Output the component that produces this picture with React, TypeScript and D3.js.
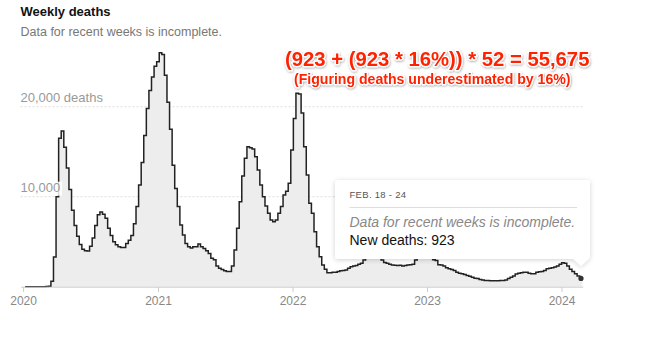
import React from "react";
import * as d3 from "d3";

const firstWeek = new Date(2020, 0, 5);
const weeklyDeaths: number[] = [
  0, 0, 0, 0, 0, 0, 0, 0, 10, 60,
  600, 3300, 10000, 16500, 17300, 15500, 13200, 10800, 8500, 6800,
  5600, 4700, 4150, 4000, 3970, 4500, 5400, 6800, 8000, 8300,
  8050, 7600, 6500, 5700, 5000, 4650, 4450, 4350, 4350, 4800,
  5150, 5700, 7000, 8900, 11300, 13800, 16800, 19800, 21800, 23300,
  24500, 25000, 26000, 25800, 23500, 20500, 17500, 13500, 10900, 8900,
  6850, 5750, 4800, 4450, 4300, 4450, 4450, 4750, 4450, 4250,
  4000, 3700, 3150, 3000, 2300, 2050, 1900, 1780, 1700, 1700,
  2300, 4070, 6500, 9450, 12300, 14270, 15550, 15450, 15300, 14450,
  12970, 11300, 10000, 8970, 8150, 7400, 7220, 7400, 8150, 8900,
  10200, 10600, 11500, 15200, 18700, 21500, 21400, 19300, 15560, 12400,
  9270, 8150, 6100, 4450, 3330, 2400, 1930, 1560, 1560, 1600,
  1600, 1700, 1780, 1800, 1850, 2050, 2220, 2300, 2350, 2500,
  2600, 2970, 3200, 3300, 3400, 3450, 3400, 3300, 2970, 2700,
  2600, 2500, 2400, 2370, 2350, 2370, 2300, 2350, 2400, 2450,
  2500, 2970, 3400, 3800, 4100, 4000, 3700, 3400, 3000, 2900,
  2450, 2400, 2300, 2100, 2000, 1900, 1800, 1600, 1500, 1450,
  1350, 1250, 1150, 1050, 950, 900, 800, 750, 700, 680,
  650, 650, 650, 660, 680, 700, 750, 900, 1050, 1200,
  1400, 1500, 1550, 1600, 1600, 1500, 1430, 1450, 1600, 1670,
  1700, 1800, 2000, 2050, 2100, 2200, 2300, 2500, 2650, 2600,
  2300, 1950, 1700, 1450, 1200, 923,
];
const tickYears = [2020, 2021, 2022, 2023, 2024];
const gridValues = [10000, 20000];
const gridLabels = ["10,000", "20,000 deaths"];
const title = "Weekly deaths";
const subtitle = "Data for recent weeks is incomplete.";
const tooltipDate = "FEB. 18 - 24";
const tooltipNote = "Data for recent weeks is incomplete.";
const tooltipValue = "New deaths: 923";
const annotation1 = "(923 + (923 * 16%)) * 52 = 55,675";
const annotation2 = "(Figuring deaths underestimated by 16%)";

const FONT = "'Liberation Sans', Arial, sans-serif";

export default function App() {
  const W = 648, H = 356;
  const x = d3.scaleTime()
    .domain([new Date(2021, 0, 1), new Date(2024, 0, 1)])
    .range([158.5, 562]);
  const y = d3.scaleLinear().domain([0, 20000]).range([286.7, 106.7]);

  const pts: [Date, number][] = weeklyDeaths.map((v, i) => [d3.timeWeek.offset(firstWeek, i), v]);
  const last = pts[pts.length - 1];
  const stepPts: [Date, number][] = [...pts, [d3.timeWeek.offset(last[0], 1), last[1]]];

  const line = d3.line<[Date, number]>()
    .x(d => x(d[0]))
    .y(d => y(d[1]))
    .curve(d3.curveStepAfter);
  const area = d3.area<[Date, number]>()
    .x(d => x(d[0]))
    .y0(y(0))
    .y1(d => y(d[1]))
    .curve(d3.curveStepAfter);

  const lastMid = new Date((+last[0] + +d3.timeWeek.offset(last[0], 1)) / 2);
  const x0 = x(pts[0][0]);
  const xEnd = x(stepPts[stepPts.length - 1][0]);

  return (
    <svg width={W} height={H} style={{ position: "absolute", left: 0, top: 0, background: "#fff" }} fontFamily={FONT}>
      <defs>
        <filter id="tipShadow" x="-10%" y="-20%" width="120%" height="150%">
          <feDropShadow dx="0" dy="1" stdDeviation="2.5" floodColor="#000" floodOpacity="0.18" />
        </filter>
        <filter id="redShadow" x="-5%" y="-30%" width="110%" height="160%">
          <feDropShadow dx="0.5" dy="1" stdDeviation="0.8" floodColor="#000" floodOpacity="0.35" />
        </filter>
      </defs>

      <text x={20.5} y={15.5} fontSize={13} fontWeight="bold" fill="#121212">{title}</text>
      <text x={20.5} y={36} fontSize={12.5} fill="#777">{subtitle}</text>

      {gridValues.map(g => (
        <line key={g} x1={20.5} x2={584} y1={y(g)} y2={y(g)} stroke="#ddd" strokeDasharray="2,2" strokeWidth={1} />
      ))}

      <path d={area(stepPts) || ""} fill="#ededed" />
      <path d={line(stepPts) || ""} fill="none" stroke="#222" strokeWidth={1.5} strokeLinejoin="miter" />

      {gridValues.map((g, i) => (
        <g key={"l" + g}>
          {i === 0 && <rect x={20} y={y(g) - 15} width={42} height={14} fill="#fff" opacity={0.85} />}
          <text x={20.5} y={y(g) - 4.5} fontSize={13} fill="#999">{gridLabels[i]}</text>
        </g>
      ))}

      <line x1={x0 - 4} x2={xEnd + 1} y1={287.2} y2={287.2} stroke="#ccc" strokeWidth={1} />
      {tickYears.map(t => {
        const tx = x(new Date(t, 0, 1));
        return (
          <g key={t}>
            <line x1={tx} x2={tx} y1={287.2} y2={292} stroke="#ccc" />
            <text x={tx} y={304.5} fontSize={12} fill="#888" textAnchor="middle">{t}</text>
          </g>
        );
      })}

      <g filter="url(#tipShadow)">
        <rect x={335} y={180} width={255} height={79} rx={3} fill="#fff" />
        <path d={`M ${x(lastMid) - 8} 258.5 L ${x(lastMid)} 266 L ${x(lastMid) + 8} 258.5 Z`} fill="#fff" />
      </g>
      <text x={349.5} y={198.3} fontSize={9.5} fill="#555" letterSpacing={0.3}>{tooltipDate}</text>
      <line x1={349.5} x2={577} y1={207.5} y2={207.5} stroke="#ddd" />
      <text x={349.5} y={226.5} fontSize={14} fontStyle="italic" fill="#888">{tooltipNote}</text>
      <text x={349.5} y={245} fontSize={14} fill="#121212">{tooltipValue}</text>

      <circle cx={x(lastMid)} cy={y(last[1])} r={2.6} fill="#333" />

      <g filter="url(#redShadow)" fontWeight="bold" fill="#ff2200" stroke="#fff" strokeWidth={2.5} style={{ paintOrder: "stroke" }} strokeLinejoin="round">
        <text x={285} y={65.5} fontSize={20.3}>{annotation1}</text>
        <text x={294} y={84} fontSize={14.1}>{annotation2}</text>
      </g>
    </svg>
  );
}
